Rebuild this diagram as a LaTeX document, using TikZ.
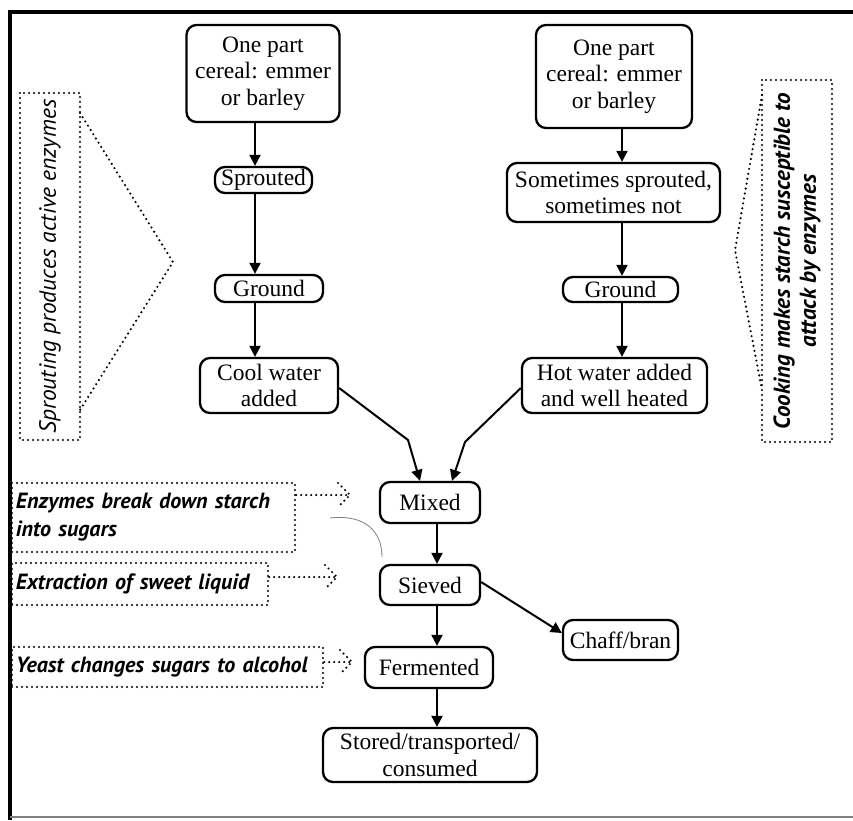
\documentclass[tikz,border=0pt]{standalone}
\usepackage{fontspec}
\setmainfont{Liberation Serif}
\newfontfamily\annfont{PT Sans}
\usetikzlibrary{arrows.meta,calc}
\begin{document}
\begin{tikzpicture}[x=1pt,y=-1pt,
 box/.style={draw, line width=2.3pt, rounded corners=10pt, inner sep=0pt, align=center, font=\fontsize{23.5}{26.5}\selectfont},
 arr/.style={line width=2pt, -{Triangle[length=11pt,width=11pt]}},
 dotl/.style={line width=2.4pt, dash pattern=on 0pt off 5pt, line cap=round},
 ann/.style={dotl, draw, inner xsep=4pt, inner ysep=0pt, align=left, font=\annfont\bfseries\itshape\fontsize{22}{28}\selectfont},
 vbox/.style={dotl, draw, rotate=90, inner sep=0pt, align=center},
]
\useasboundingbox (0,0) rectangle (853,820);
% frame
\draw[line width=4pt] (853,12) -- (10,12) -- (10,820);
\draw[line width=2.5pt, gray] (10,817) -- (853,817);

% left column
\node[box, minimum width=153, minimum height=97] (top1) at (263,73.5) {One part\\cereal: emmer\\or barley};
\node[box, minimum width=97, minimum height=26] (spr) at (263.5,180) {Sprouted};
\node[box, minimum width=108, minimum height=27] (gr1) at (269,288.5) {Ground};
\node[box, minimum width=138, minimum height=55] (cool) at (269,385.5) {Cool water\\added};
% right column
\node[box, minimum width=156, minimum height=103] (top2) at (614,76.5) {One part\\cereal: emmer\\or barley};
\node[box, minimum width=213, minimum height=59] (some) at (613.5,192.5) {Sometimes sprouted,\\sometimes not};
\node[box, minimum width=115, minimum height=25] (gr2) at (620.5,289.5) {Ground};
\node[box, minimum width=185, minimum height=55] (hot) at (614.5,385.5) {Hot water added\\and well heated};
% centre
\node[box, minimum width=100, minimum height=41] (mixed) at (430,502.5) {Mixed};
\node[box, minimum width=100, minimum height=40] (sieved) at (430,585) {Sieved};
\node[box, minimum width=128, minimum height=41] (ferm) at (429,667.5) {Fermented};
\node[box, minimum width=214, minimum height=54] (stored) at (430,755) {Stored/transported/\\consumed};
\node[box, minimum width=115, minimum height=40] (chaff) at (620.5,640) {Chaff/bran};

% arrow columns
\coordinate (xl) at (255,0);
\coordinate (xr) at (622,0);
\coordinate (xc) at (437,0);
\draw[arr] (top1.south -| xl) -- (spr.north -| xl);
\draw[arr] (spr.south -| xl) -- (gr1.north -| xl);
\draw[arr] (gr1.south -| xl) -- (cool.north -| xl);
\draw[arr] (top2.south -| xr) -- (some.north -| xr);
\draw[arr] (some.south -| xr) -- (gr2.north -| xr);
\draw[arr] (gr2.south -| xr) -- (hot.north -| xr);
\coordinate (bl) at (408,440);
\coordinate (ml) at (420,0);
\coordinate (br) at (465,442);
\coordinate (mr) at (452,0);
\draw[arr] ([yshift=-2.5pt]cool.east) -- (bl) -- (mixed.north -| ml);
\draw[arr] ([yshift=-2.5pt]hot.west) -- (br) -- (mixed.north -| mr);
\draw[arr] (mixed.south -| xc) -- (sieved.north -| xc);
\draw[arr] (sieved.south -| xc) -- (ferm.north -| xc);
\draw[arr] (ferm.south -| xc) -- (stored.north -| xc);
\draw[arr] ([yshift=3pt]sieved.east) -- ([yshift=7pt]chaff.west);

% side notes
\node[vbox, minimum width=347, minimum height=60, font=\annfont\itshape\fontsize{23.5}{25}\selectfont] (sv) at (50,266.5) {Sprouting produces active enzymes};
\coordinate (la) at (80,113);
\coordinate (lb) at (173,262);
\coordinate (lc) at (80,410);
\draw[dotl] (la) -- (lb) -- (lc);
\node[vbox, minimum width=362, minimum height=70, font=\annfont\bfseries\itshape\fontsize{23}{26}\selectfont] (cv) at (797,261) {Cooking makes starch susceptible to\\attack by enzymes};
\coordinate (ra) at (762,95);
\coordinate (rb) at (735,250);
\coordinate (rc) at (762,390);
\draw[dotl] (ra) -- (rb) -- (rc);

% annotations
\node[ann, minimum height=69, text width=275] (e1) at (153.5,517.5) {Enzymes break down starch\\into sugars};
\node[ann, minimum height=42, text width=248] (e2) at (140,584) {Extraction of sweet liquid};
\node[ann, minimum height=40, text width=303] (e3) at (167.5,667) {Yeast changes sugars to alcohol};

\coordinate (t1) at (350,495);
\coordinate (t2) at (337,577);
\coordinate (t3) at (352,662);
\draw[dotl] (e1.east |- t1) -- (t1);
\draw[dotl] ($(t1)+(-12,-12)$) -- (t1) -- ($(t1)+(-12,12)$);
\draw[dotl] (e2.east |- t2) -- (t2);
\draw[dotl] ($(t2)+(-12,-12)$) -- (t2) -- ($(t2)+(-12,12)$);
\draw[dotl] (e3.east |- t3) -- (t3);
\draw[dotl] ($(t3)+(-12,-12)$) -- (t3) -- ($(t3)+(-12,12)$);

% thin curved stroke
\coordinate (ca) at (330,518);
\coordinate (cb) at (382,557);
\draw[line width=0.8pt, gray] (ca) .. controls (366,514) and (382,532) .. (cb);
\end{tikzpicture}
\end{document}
